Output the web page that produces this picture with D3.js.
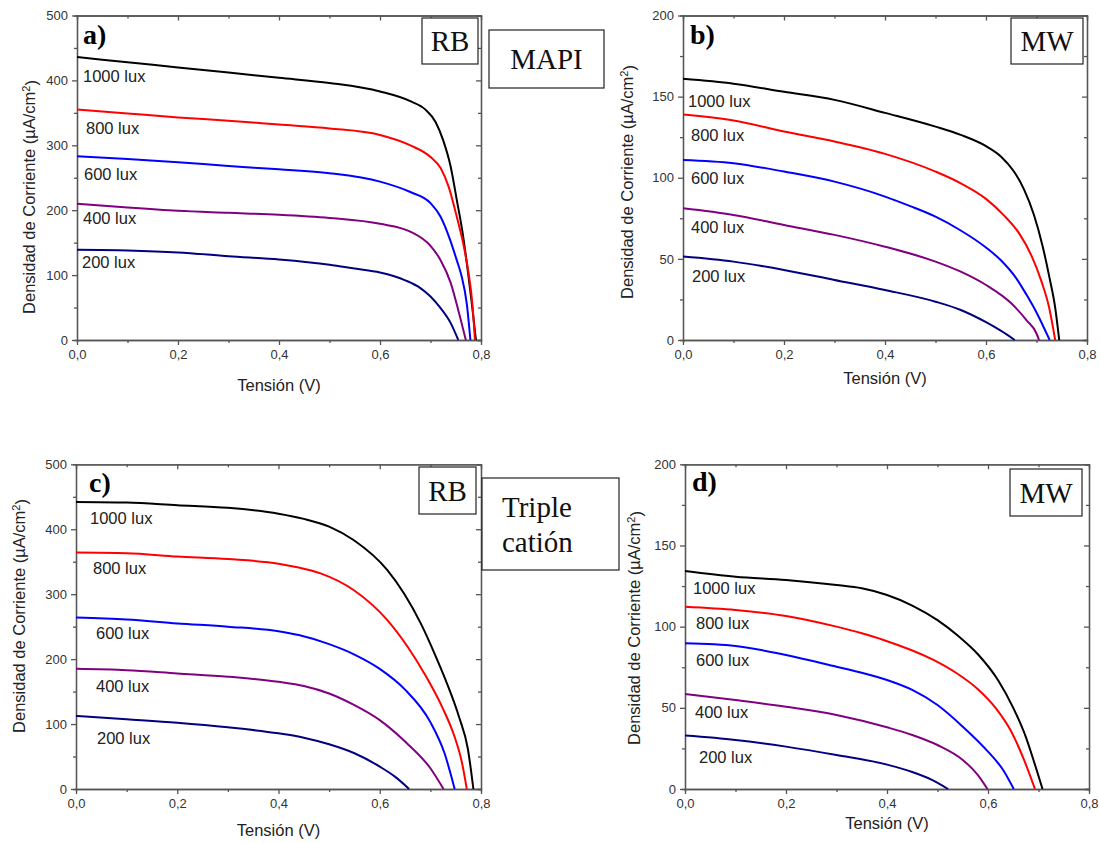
<!DOCTYPE html>
<html>
<head>
<meta charset="utf-8">
<script src="https://cdn.jsdelivr.net/npm/d3@7"></script>
<style>
  body { margin: 0; background: #fff; }
  svg { display: block; }
</style>
</head>
<body>
<div id="chart"></div>
<script>
var W = 1100, H = 843;

var luxLabels = ["1000 lux", "800 lux", "600 lux", "400 lux", "200 lux"];
var lineColors = ["#000000", "#ff0000", "#0000ff", "#800080", "#000080"];
var xTicks = [0, 0.2, 0.4, 0.6, 0.8];

// a) MAPI - RB   [V, J]
var a1000 = [[0,436],[0.1,428],[0.2,420],[0.3,412],[0.4,404],[0.5,396],[0.6,383],[0.66,368],[0.69,355],[0.71,336],[0.725,308],[0.74,267],[0.752,216],[0.763,168],[0.772,118],[0.781,62],[0.79,0]];
var a800 = [[0,355],[0.1,349],[0.2,343],[0.3,338],[0.4,332],[0.5,326],[0.6,316],[0.66,300],[0.7,282],[0.72,265],[0.736,236],[0.752,190],[0.766,144],[0.776,100],[0.783,55],[0.788,0]];
var a600 = [[0,283],[0.1,279],[0.2,274],[0.3,268],[0.4,263],[0.5,257],[0.6,244],[0.66,228],[0.7,211],[0.72,190],[0.739,154],[0.752,123],[0.761,100],[0.772,55],[0.779,0]];
var a400 = [[0,210],[0.1,204],[0.2,199],[0.3,196],[0.4,193],[0.5,188],[0.6,179],[0.66,167],[0.7,145],[0.72,123],[0.74,88],[0.755,46],[0.77,0]];
var a200 = [[0,139],[0.1,138],[0.2,135],[0.3,129],[0.4,124],[0.5,116],[0.55,110],[0.6,104],[0.65,92],[0.68,80],[0.7,67],[0.72,49],[0.74,26],[0.755,0]];

// b) MAPI - MW
var b1000 = [[0,161],[0.1,158],[0.2,153],[0.3,148],[0.4,140],[0.5,131.5],[0.55,126.4],[0.6,119.5],[0.63,113],[0.655,104],[0.675,93],[0.695,77],[0.712,58],[0.726,38],[0.737,20],[0.745,0]];
var b800 = [[0,139],[0.1,135.3],[0.2,128.5],[0.3,122.3],[0.4,114.7],[0.5,103.8],[0.55,96.6],[0.6,87],[0.635,77],[0.665,66],[0.69,52],[0.71,36],[0.725,20],[0.737,0]];
var b600 = [[0,111],[0.1,109],[0.2,103.8],[0.3,97.6],[0.4,88.4],[0.45,82.5],[0.5,76],[0.55,67.5],[0.6,57],[0.63,49],[0.66,38],[0.68,28],[0.7,17],[0.726,0]];
var b400 = [[0,81.2],[0.1,77.1],[0.2,70.9],[0.3,64.8],[0.4,57.5],[0.5,48.3],[0.55,42.1],[0.6,33.9],[0.65,22.6],[0.68,12.3],[0.7,4],[0.705,0]];
var b200 = [[0,51.4],[0.1,48.3],[0.2,43.2],[0.3,37],[0.4,30.8],[0.5,23.6],[0.55,18.5],[0.6,11],[0.63,5.6],[0.657,0]];

// c) Triple cation - RB
var c1000 = [[0,442],[0.1,441],[0.2,437],[0.3,433],[0.4,424],[0.45,416],[0.5,404],[0.549,383],[0.615,337],[0.648,301],[0.681,255],[0.708,209],[0.73,168],[0.757,110],[0.774,62],[0.785,0]];
var c800 = [[0,364],[0.1,363],[0.2,358],[0.3,354],[0.4,347],[0.44,341],[0.483,332],[0.549,306],[0.615,260],[0.655,219],[0.688,178],[0.724,125],[0.748,80],[0.762,42],[0.772,0]];
var c600 = [[0,264],[0.1,261],[0.2,255],[0.3,250],[0.4,243],[0.44,237],[0.5,223],[0.55,207],[0.6,185],[0.65,153],[0.7,103],[0.728,55],[0.748,0]];
var c400 = [[0,185],[0.1,183],[0.2,178],[0.3,173],[0.4,165],[0.45,158.6],[0.5,147],[0.55,129],[0.6,106],[0.65,73],[0.7,32],[0.726,0]];
var c200 = [[0,112.4],[0.1,107.3],[0.2,102],[0.3,95],[0.4,85.7],[0.45,79],[0.5,68.8],[0.55,55],[0.6,34.4],[0.63,19],[0.658,0]];

// d) Triple cation - MW
var d1000 = [[0,134.3],[0.1,130.8],[0.2,128.7],[0.3,125.6],[0.35,123.6],[0.4,119.5],[0.45,113],[0.5,104],[0.54,94.5],[0.58,83],[0.62,67],[0.65,50],[0.675,32],[0.693,15],[0.708,0]];
var d800 = [[0,112.3],[0.1,110.3],[0.2,106.6],[0.3,100],[0.35,95.9],[0.393,91.8],[0.492,79.5],[0.538,71.3],[0.58,61.5],[0.615,50],[0.645,36],[0.67,19],[0.693,0]];
var d600 = [[0,89.7],[0.1,88.1],[0.2,82.5],[0.3,75.3],[0.35,71.6],[0.4,67.1],[0.45,61],[0.5,51.7],[0.55,38.4],[0.6,23],[0.63,11.7],[0.651,0]];
var d400 = [[0,58.5],[0.1,54.8],[0.2,50.7],[0.3,45.6],[0.4,38],[0.45,33.3],[0.5,27.1],[0.55,17.9],[0.58,8.6],[0.599,0]];
var d200 = [[0,32.9],[0.1,30.2],[0.2,26.1],[0.3,20.9],[0.4,15],[0.45,10.5],[0.49,5.5],[0.521,0]];

var panels = [
  { letter: "a)", yMax: 500, yStep: 100, x0: 77, x1: 481, yTop: 15.5, yBot: 340,
    series: [a1000, a800, a600, a400, a200],
    labels: [[83, 76], [86, 128], [84, 174], [83, 218], [82, 262]],
    letterPos: [83, 44], xTitleY: 391, yTitleX: 29, yTitleC: 197,
    box: { text: ["RB"], x: 422, y: 18, w: 56, h: 46 } },
  { letter: "b)", yMax: 200, yStep: 50, x0: 683, x1: 1087, yTop: 15.5, yBot: 340,
    series: [b1000, b800, b600, b400, b200],
    labels: [[688, 101], [691, 135], [691, 178], [691, 227], [692, 276]],
    letterPos: [690, 44], xTitleY: 384, yTitleX: 627, yTitleC: 182,
    box: { text: ["MW"], x: 1011, y: 18, w: 72, h: 46 } },
  { letter: "c)", yMax: 500, yStep: 100, x0: 76, x1: 481, yTop: 464.3, yBot: 789,
    series: [c1000, c800, c600, c400, c200],
    labels: [[90, 518], [93, 568], [96, 633], [96, 686], [97, 738]],
    letterPos: [89, 492], xTitleY: 836, yTitleX: 19, yTitleC: 616,
    box: { text: ["RB"], x: 419, y: 467, w: 57, h: 47 } },
  { letter: "d)", yMax: 200, yStep: 50, x0: 685, x1: 1089, yTop: 464.3, yBot: 789,
    series: [d1000, d800, d600, d400, d200],
    labels: [[693, 588], [696, 623], [696, 660], [695, 712], [699, 757]],
    letterPos: [692, 491], xTitleY: 829, yTitleX: 634, yTitleC: 628,
    box: { text: ["MW"], x: 1010, y: 469, w: 72, h: 47 } }
];

var svg = d3.select("#chart").append("svg")
  .attr("width", W)
  .attr("height", H);

var fmt = function(d){ return d3.format(".1f")(d).replace(".", ","); };

panels.forEach(function(p){
  var x = d3.scaleLinear().domain([0, 0.8]).range([p.x0, p.x1]);
  var y = d3.scaleLinear().domain([0, p.yMax]).range([p.yBot, p.yTop]);
  var g = svg.append("g");

  var yTicks = d3.range(0, p.yMax + 0.001, p.yStep);
  var yMinor = d3.range(p.yStep / 2, p.yMax, p.yStep);
  var xMinor = [0.1, 0.3, 0.5, 0.7];

  // minor ticks
  g.append("g").attr("transform", "translate(0," + p.yBot + ")")
    .call(d3.axisBottom(x).tickValues(xMinor).tickSize(3).tickFormat(""));
  g.append("g").attr("transform", "translate(0," + p.yTop + ")")
    .call(d3.axisTop(x).tickValues(xMinor).tickSize(-3).tickFormat(""));
  g.append("g").attr("transform", "translate(" + p.x0 + ",0)")
    .call(d3.axisLeft(y).tickValues(yMinor).tickSize(3).tickFormat(""));
  g.append("g").attr("transform", "translate(" + p.x1 + ",0)")
    .call(d3.axisRight(y).tickValues(yMinor).tickSize(-3).tickFormat(""));

  // major ticks + frame
  g.append("g").attr("class", "ax").attr("transform", "translate(0," + p.yBot + ")")
    .call(d3.axisBottom(x).tickValues(xTicks).tickSize(5).tickSizeOuter(0).tickPadding(5).tickFormat(fmt));
  g.append("g").attr("transform", "translate(0," + p.yTop + ")")
    .call(d3.axisTop(x).tickValues(xTicks).tickSize(-5).tickSizeOuter(0).tickFormat(""));
  g.append("g").attr("class", "ax").attr("transform", "translate(" + p.x0 + ",0)")
    .call(d3.axisLeft(y).tickValues(yTicks).tickSize(5).tickSizeOuter(0).tickPadding(4).tickFormat(d3.format("d")));
  g.append("g").attr("transform", "translate(" + p.x1 + ",0)")
    .call(d3.axisRight(y).tickValues(yTicks).tickSize(-5).tickSizeOuter(0).tickFormat(""));

  g.selectAll(".domain, .tick line").attr("stroke", "#555").attr("stroke-width", 1.3);
  g.selectAll(".ax text").attr("font-family", "Arial, 'Liberation Sans', sans-serif")
    .attr("font-size", "13px").attr("fill", "#333");

  // curves
  var line = d3.line()
    .x(function(d){ return x(d[0]); })
    .y(function(d){ return y(d[1]); })
    .curve(d3.curveMonotoneX);

  p.series.forEach(function(s, i){
    g.append("path")
      .attr("d", line(s))
      .attr("fill", "none")
      .attr("stroke", lineColors[i])
      .attr("stroke-width", 2);
  });

  // lux labels
  g.selectAll("text.lux").data(luxLabels).enter().append("text")
    .attr("class", "lux")
    .attr("x", function(d, i){ return p.labels[i][0]; })
    .attr("y", function(d, i){ return p.labels[i][1]; })
    .attr("dy", "0.35em")
    .attr("font-family", "Arial, 'Liberation Sans', sans-serif")
    .attr("font-size", "16.5px")
    .attr("fill", "#222")
    .text(function(d){ return d; });

  // panel letter
  g.append("text")
    .attr("x", p.letterPos[0]).attr("y", p.letterPos[1])
    .attr("font-family", "'Liberation Serif', 'Times New Roman', serif")
    .attr("font-weight", "bold").attr("font-size", "28px")
    .text(p.letter);

  // axis titles
  g.append("text")
    .attr("x", (p.x0 + p.x1) / 2).attr("y", p.xTitleY)
    .attr("text-anchor", "middle")
    .attr("font-family", "Arial, 'Liberation Sans', sans-serif")
    .attr("font-size", "16.5px").attr("fill", "#222")
    .text("Tensión (V)");

  var yt = g.append("text")
    .attr("transform", "translate(" + p.yTitleX + "," + p.yTitleC + ") rotate(-90)")
    .attr("text-anchor", "middle")
    .attr("dy", "0.35em")
    .attr("font-family", "Arial, 'Liberation Sans', sans-serif")
    .attr("font-size", "16.5px").attr("fill", "#222");
  yt.append("tspan").text("Densidad de Corriente (µA/cm");
  yt.append("tspan").attr("dy", "-0.45em").attr("font-size", "11px").text("2");
  yt.append("tspan").attr("dy", "0.45em").text(")");

  // label box
  drawBox(p.box);
});

// material boxes
drawBox({ text: ["MAPI"], x: 489, y: 30, w: 115, h: 58 });
drawBox({ text: ["Triple", "catión"], x: 482, y: 478, w: 137, h: 92, left: 502 });

function drawBox(b){
  svg.append("rect")
    .attr("x", b.x).attr("y", b.y)
    .attr("width", b.w).attr("height", b.h)
    .attr("fill", "#fff").attr("stroke", "#222").attr("stroke-width", 1.2);
  var n = b.text.length;
  var lh = 35;
  b.text.forEach(function(t, i){
    svg.append("text")
      .attr("x", b.left ? b.left : b.x + b.w / 2)
      .attr("y", b.y + b.h / 2 + (i - (n - 1) / 2) * lh)
      .attr("dy", "0.35em")
      .attr("text-anchor", b.left ? "start" : "middle")
      .attr("font-family", "'Liberation Serif', 'Times New Roman', serif")
      .attr("font-size", "29px").attr("fill", "#111")
      .text(t);
  });
}
</script>
</body>
</html>
